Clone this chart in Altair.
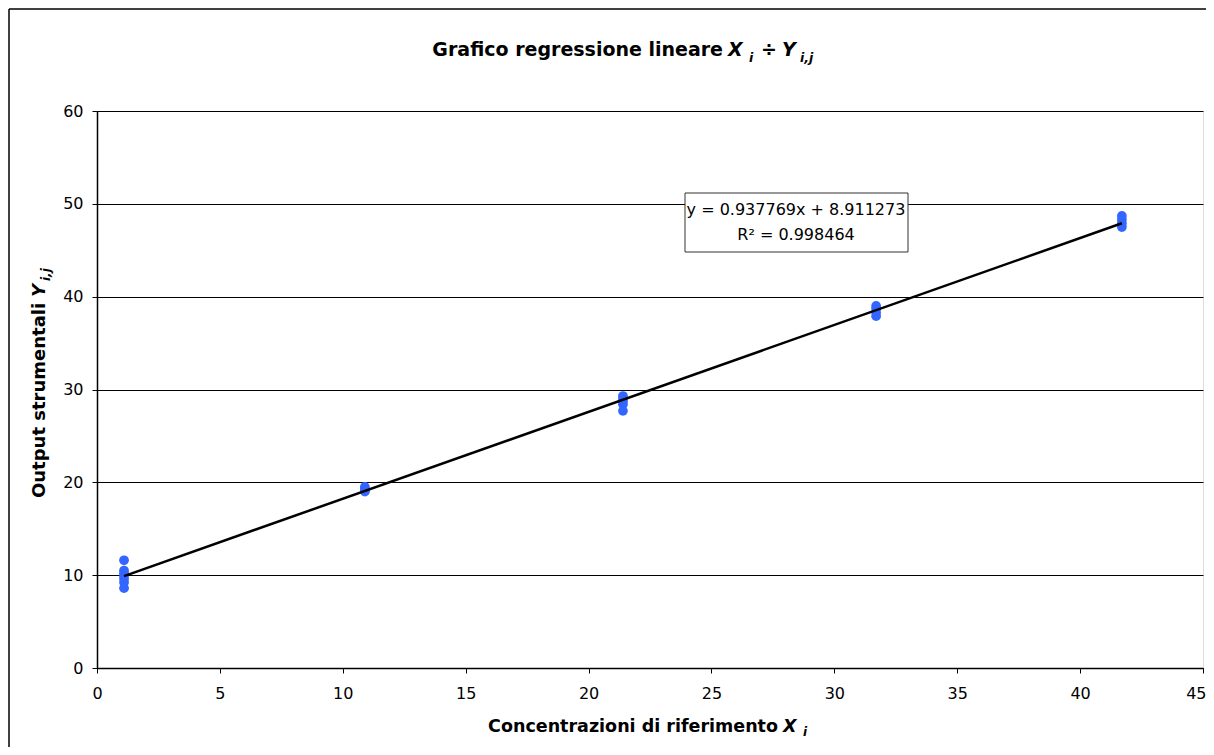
import altair as alt
import pandas as pd

# ---- data ----
x_levels = [1.1, 10.9, 21.4, 31.7, 41.7]
y_level1 = [11.6, 10.5, 10.2, 9.9, 9.6, 9.2, 8.6]
y_level2 = [19.5, 19.3, 19.1, 19.0]
y_level3 = [29.3, 29.0, 28.7, 28.4, 27.7]
y_level4 = [39.0, 38.7, 38.3, 37.9]
y_level5 = [48.7, 48.3, 47.9, 47.5]

x_ticks = [0, 5, 10, 15, 20, 25, 30, 35, 40, 45]
y_ticks = [0, 10, 20, 30, 40, 50, 60]

eq_line1 = "y = 0.937769x + 8.911273"
eq_line2 = "R\u00b2 = 0.998464"

groups = [y_level1, y_level2, y_level3, y_level4, y_level5]
rows = []
for xv, ys in zip(x_levels, groups):
    for yv in ys:
        rows.append({"x": xv, "y": yv})
df = pd.DataFrame(rows)

W, H = 1106, 557
FONT = "DejaVu Sans"

xscale = alt.Scale(domain=[0, 45], nice=False, zero=True)
yscale = alt.Scale(domain=[0, 60], nice=False, zero=True)

base = alt.Chart(df)

last_x = "datum.value == 45"

points = base.mark_circle(size=95, color="#3366FF", opacity=1).encode(
    x=alt.X("x:Q", scale=xscale,
            axis=alt.Axis(values=x_ticks, title=None, grid=False,
                          domainColor="black", domainWidth=1.5,
                          tickColor="black", tickSize=5, labelPadding=12,
                          labelFlush=False,
                          labelAlign={"condition": {"test": last_x, "value": "right"}, "value": "center"},
                          labelOffset={"condition": {"test": last_x, "value": 3}, "value": 0},
                          labelFont=FONT, labelFontSize=16, labelColor="black")),
    y=alt.Y("y:Q", scale=yscale,
            axis=alt.Axis(values=y_ticks, title=None, grid=True,
                          gridColor="black", gridWidth=1, gridOpacity=1,
                          domainColor="black", domainWidth=1.5,
                          tickColor="black", tickSize=5, labelPadding=9,
                          labelFlush=False,
                          labelFont=FONT, labelFontSize=16, labelColor="black")),
)

reg = base.transform_regression("x", "y").mark_line(
    color="black", strokeWidth=2.5
).encode(x=alt.X("x:Q", scale=xscale), y=alt.Y("y:Q", scale=yscale))


def txt(text, x, y, size, weight="bold", style="normal", align="left", angle=0):
    return alt.Chart(pd.DataFrame({"t": [text]})).mark_text(
        font=FONT, fontSize=size, fontWeight=weight, fontStyle=style,
        align=align, baseline="alphabetic", angle=angle, color="black"
    ).encode(text="t:N", x=alt.value(x), y=alt.value(y))


# title pieces
title_parts = [
    txt("Grafico regressione lineare", 626, -55, 19, align="right"),
    txt("X", 631, -55, 19, style="italic"),
    txt("i", 652, -49, 12.5, style="italic"),
    txt("\u00f7", 672, -55, 19, align="center"),
    txt("Y", 685, -55, 19, style="italic"),
    txt("i,j", 703, -49, 12.5, style="italic"),
]

# x axis title pieces
xtitle_parts = [
    txt("Concentrazioni di riferimento", 681, 621, 17.5, align="right"),
    txt("X", 686, 621, 17.5, style="italic"),
    txt("i", 706, 625, 12, style="italic"),
]

# y axis title pieces (rotated)
ytitle_parts = [
    txt("Output strumentali", -52, 387, 18, angle=270),
    txt("Y", -52, 186, 18, style="italic", angle=270),
    txt("i,j", -47, 170, 12, style="italic", angle=270),
]

# equation box
box = alt.Chart(pd.DataFrame({"t": [0]})).mark_rect(
    fill="white", stroke="#333333", strokeWidth=1
).encode(x=alt.value(588), x2=alt.value(811), y=alt.value(82), y2=alt.value(141))

eq_parts = [
    txt(eq_line1, 699, 104, 16, weight="normal", align="center"),
    txt(eq_line2, 699, 129, 16, weight="normal", align="center"),
]

# outer chart border (decoration)
border_top = alt.Chart(pd.DataFrame({"t": [0]})).mark_rule(
    color="black", strokeWidth=1.5
).encode(x=alt.value(-88), x2=alt.value(1130), y=alt.value(-102))
border_left = alt.Chart(pd.DataFrame({"t": [0]})).mark_rule(
    color="black", strokeWidth=1.5
).encode(x=alt.value(-88), y=alt.value(-102), y2=alt.value(700))

chart = alt.layer(
    points, reg, box, *eq_parts, *title_parts, *xtitle_parts, *ytitle_parts,
    border_top, border_left
).properties(
    width=W, height=H,
    autosize=alt.AutoSizeParams(type="none"),
    padding={"left": 89, "top": 103, "right": 3, "bottom": 79},
).configure_view(
    stroke="#808080", strokeWidth=1
).configure(background="white")

chart.save("out.html", embed_options={"renderer": "svg", "actions": False})
